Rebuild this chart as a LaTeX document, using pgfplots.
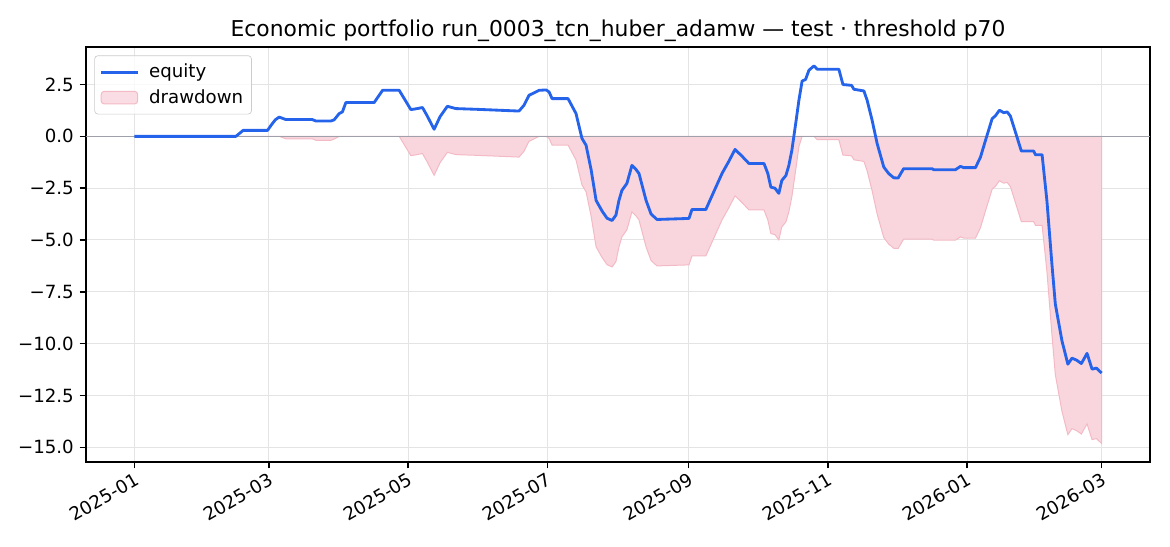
\documentclass[border=0pt]{standalone}
\usepackage{pgfplots}
\pgfplotsset{compat=1.18}
\usepackage{pgfplotstable}
\usepackage{fontspec}
\setmainfont{DejaVu Sans}
\definecolor{eqblue}{RGB}{37,99,235}
\definecolor{ddfill}{RGB}{249,214,222}
\definecolor{ddedge}{RGB}{243,186,198}
\definecolor{gridc}{RGB}{228,228,228}
\definecolor{zeroc}{RGB}{160,160,170}
\definecolor{legedge}{RGB}{204,204,204}
\pgfplotsset{
  arealeg/.style={legend image code/.code={\draw[##1] (0pt,-3.8pt) rectangle (22pt,3.8pt);}},
  lineleg/.style={legend image code/.code={\draw[##1] (0pt,0pt) -- (22pt,0pt);}},
}

\pgfplotstableread{
d eq dd
0 0 0
44.5 0 0
47.7 0.29 0
58.4 0.29 0
59.9 0.53 0
61.8 0.80 0
63.5 0.93 0
66.4 0.81 -0.12
78.0 0.81 -0.12
79.6 0.74 -0.19
86.2 0.74 -0.19
87.6 0.80 -0.13
89.8 1.10 0
91.2 1.18 0
92.7 1.63 0
105.1 1.63 0
108.8 2.22 0
116.1 2.22 0
121.2 1.29 -0.93
123.5 1.33 -0.89
126.3 1.39 -0.83
128.3 1.00 -1.22
131.4 0.34 -1.88
134.0 0.95 -1.27
137.2 1.45 -0.77
140.9 1.34 -0.88
151.1 1.30 -0.92
168.6 1.22 -1.00
170.8 1.50 -0.72
173.0 1.98 -0.24
177.4 2.22 0
180.5 2.24 0
181.8 2.14 -0.10
183.1 1.82 -0.42
190.1 1.82 -0.42
193.6 1.10 -1.14
196.2 -0.10 -2.34
198.0 -0.43 -2.67
200.2 -1.60 -3.84
202.4 -3.09 -5.33
205.0 -3.60 -5.84
207.2 -3.95 -6.19
209.4 -4.06 -6.30
211.1 -3.80 -6.04
212.4 -3.10 -5.34
213.7 -2.61 -4.85
215.9 -2.27 -4.51
218.1 -1.40 -3.64
219.9 -1.60 -3.84
221.2 -1.79 -4.03
224.3 -3.09 -5.33
226.5 -3.75 -5.99
229.1 -4.01 -6.25
243.1 -3.96 -6.20
244.4 -3.53 -5.77
250.5 -3.53 -5.77
254.9 -2.45 -4.69
257.6 -1.79 -4.03
260.6 -1.20 -3.44
263.3 -0.63 -2.87
266.3 -0.95 -3.19
269.4 -1.31 -3.55
276.0 -1.31 -3.55
277.7 -1.80 -4.04
279.0 -2.45 -4.69
280.8 -2.50 -4.74
282.5 -2.75 -4.99
283.8 -2.13 -4.37
285.6 -1.89 -4.13
286.9 -1.40 -3.64
288.2 -0.68 -2.92
290.0 0.70 -1.54
291.3 1.74 -0.50
292.7 2.67 0
294.2 2.74 0
295.7 3.19 0
297.9 3.40 0
299.3 3.24 -0.16
308.8 3.24 -0.16
310.6 2.50 -0.90
314.4 2.46 -0.94
315.4 2.27 -1.13
319.8 2.19 -1.21
321.2 1.74 -1.66
323.4 0.77 -2.63
325.6 -0.35 -3.75
328.5 -1.48 -4.88
330.7 -1.80 -5.20
332.9 -2.00 -5.40
334.8 -2.01 -5.41
337.2 -1.56 -4.96
349.7 -1.56 -4.96
350.4 -1.61 -5.01
359.9 -1.61 -5.01
362.1 -1.45 -4.85
363.6 -1.51 -4.91
368.7 -1.51 -4.91
370.9 -1.00 -4.40
373.1 -0.19 -3.59
376.0 0.85 -2.55
377.5 1.00 -2.40
379.2 1.26 -2.14
381.1 1.14 -2.26
382.6 1.18 -2.22
384.0 0.98 -2.42
386.2 0.21 -3.19
388.8 -0.71 -4.11
394.2 -0.71 -4.11
395.0 -0.89 -4.29
397.9 -0.89 -4.29
400.0 -3.09 -6.49
402.2 -6.15 -9.55
403.7 -8.09 -11.49
406.6 -9.86 -13.26
409.2 -10.99 -14.39
411.0 -10.70 -14.10
413.1 -10.80 -14.20
415.1 -10.96 -14.36
417.6 -10.47 -13.87
419.8 -11.23 -14.63
421.7 -11.18 -14.58
424.0 -11.42 -14.82
}\data

\begin{document}
\begin{tikzpicture}
\useasboundingbox (-51.6pt,-50.4pt) rectangle (650.4pt,277.2pt);
\begin{axis}[
  at={(0,0)}, anchor=south west,
  scale only axis, width=638.4pt, height=249pt,
  xmin=-21.2, xmax=445.2, ymin=-15.71, ymax=4.31,
  xtick={0,59,120,181,243,304,365,424},
  xticklabels={2025-01,2025-03,2025-05,2025-07,2025-09,2025-11,2026-01,2026-03},
  ytick={-15,-12.5,-10,-7.5,-5,-2.5,0,2.5},
  yticklabels={−15.0,−12.5,−10.0,−7.5,−5.0,−2.5,0.0,2.5},
  tick align=outside, tick pos=left,
  major tick length=3.8pt,
  every tick/.style={black, line width=0.85pt},
  axis line style={line width=0.85pt},
  grid=major, major grid style={gridc, line width=0.6pt},
  xticklabel style={rotate=30, anchor=north east, font=\fontsize{10.9}{13}\selectfont, inner sep=1.5pt},
  yticklabel style={font=\fontsize{10.9}{13}\selectfont},
  title={Economic portfolio run\_0003\_tcn\_huber\_adamw — test · threshold p70},
  title style={at={(0.5,1)}, anchor=base, yshift=0.6pt, font=\fontsize{13.1}{15}\selectfont},
  reverse legend,
  legend cell align=left,
  legend style={at={(0,1)}, anchor=north west, xshift=5pt, yshift=-5pt,
    draw=legedge, rounded corners=2pt, fill=white, fill opacity=0.8, text opacity=1,
    font=\fontsize{10.9}{13}\selectfont, row sep=1.5pt, inner xsep=3pt, inner ysep=3pt,
    nodes={inner sep=2pt},
    /tikz/every odd column/.append style={column sep=4pt}},
]
\addplot[fill=ddfill, draw=ddedge, line width=0.6pt, arealeg]
  table[x=d, y=dd]{\data} -- (axis cs:424,0) -- cycle;
\addlegendentry{drawdown}
\addplot[zeroc, line width=0.8pt, forget plot] coordinates {(-21.2,0) (445.2,0)};
\addplot[eqblue, line width=1.7pt, line join=round, lineleg]
  table[x=d, y=eq]{\data};
\addlegendentry{equity}
\end{axis}
\end{tikzpicture}
\end{document}
